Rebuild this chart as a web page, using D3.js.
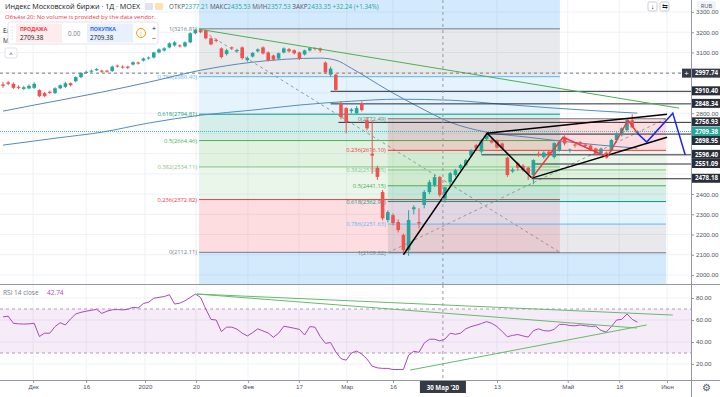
<!DOCTYPE html>
<html><head><meta charset="utf-8">
<script src="https://cdn.jsdelivr.net/npm/d3@7"></script>
<style>
body{margin:0;background:#fff;overflow:hidden}
svg{display:block;font-family:"Open Sans","Noto Sans",sans-serif}
</style></head>
<body><svg id="c" width="720" height="397"></svg>
<script>
// ---------------- DATA ----------------
const opens = [2942,2952,2945,2930,2920,2922,2925,2914,2899,2906,
2899,2923,2930,2948,2958,2978,3000,3005,3012,3010,
3010,3008,3035,3030,3030,3040,3050,3060,3070,3075,
3100,3110,3125,3135,3135,3130,3150,3195,3210,3210,
3170,3162,3120,3092,3125,3108,3125,3062,3080,3106,
3125,3100,3085,3070,3100,3116,3111,3100,3090,3110,
3122,3120,3050,2990,2990,2850,2825,2810,2800,2850,
2765,2600,2530,2410,2272,2296,2262,2198,2123,2325,
2262,2346,2410,2444,2484,2377.21,2459,2494,2528,2543,
2590,2642,2610,2672,2667,2665,2650,2580,2512,2553,
2540,2530,2494,2600,2583,2610,2583,2615,2680,2613,
2645,2657,2645,2640,2625,2600,2605,2617,2667,2691,
2716,2765,2695];
const closes = [2935,2945,2925,2925,2928,2935,2945,2884,2884,2900,
2923,2938,2948,2938,2978,2998,3004,3010,3018,3006,
3005,3030,3030,3025,3024,3052,3045,3070,3075,3100,
3115,3120,3145,3150,3130,3150,3195,3212,3200,3170,
3140,3158,3077,3111,3120,3112,3072,3072,3098,3115,
3095,3062,3065,3096,3120,3106,3096,3070,3110,3121,
3118,3110,3002,3020,2915,2780,2755,2818,2825,2815,
2725,2590,2485,2280,2311,2257,2222,2123,2272,2335,
2255,2410,2459,2484,2395,2433.35,2503,2518,2543,2568,
2617,2627,2667,2690,2655,2630,2627,2494,2520,2530,
2520,2500,2568,2593,2605,2595,2652,2657,2650,2620,
2640,2650,2638,2620,2600,2625,2585,2667,2700,2725,
2765,2730,2709.38];
const highs = [2955,2960,2952,2938,2935,2942,2952,2918,2905,2912,
2928,2942,2955,2952,2982,3002,3010,3015,3022,3015,
3014,3035,3040,3036,3034,3056,3055,3075,3080,3104,
3120,3126,3150,3156,3140,3155,3200,3216.81,3214,3212,
3175,3168,3125,3118,3130,3118,3130,3080,3102,3120,
3130,3105,3090,3100,3125,3122,3115,3104,3114,3126,
3126,3124,3056,3030,2995,2860,2830,2825,2835,2858,
2780,2765,2540,2420,2320,2305,2275,2205,2320,2345,
2330,2420,2470,2495,2490,2435.53,2510,2525,2550,2575,
2622,2648,2672,2700,2672,2670,2655,2585,2530,2560,
2548,2535,2572,2610,2612,2618,2656,2665,2690,2625,
2650,2662,2652,2645,2630,2630,2610,2672,2705,2730,
2770,2795,2715];
const lows = [2925,2938,2920,2918,2915,2918,2920,2878,2878,2895,
2895,2918,2925,2932,2952,2972,2995,3000,3008,3000,
3000,3004,3025,3020,3018,3036,3040,3055,3064,3070,
3095,3105,3120,3130,3125,3125,3145,3190,3195,3165,
3135,3150,3070,3085,3112,3100,3065,3055,3075,3100,
3090,3055,3058,3065,3095,3100,3090,3062,3085,3105,
3110,3100,2995,2980,2905,2770,2700,2800,2795,2808,
2715,2500,2470,2270,2260,2245,2210,2112.11,2095,2300,
2230,2330,2400,2435,2385,2357.53,2450,2485,2520,2538,
2585,2620,2600,2665,2650,2625,2620,2485,2505,2515,
2510,2470,2449,2585,2575,2590,2575,2610,2640,2605,
2630,2640,2630,2615,2595,2595,2575,2610,2660,2685,
2710,2725,2695];
const rsi = [62.8,63.5,57,56.5,56.3,56.5,57,45,48,48,
54,57.5,55.5,61,65.5,67,68,68.8,69.7,66,
68,69.3,69.5,69.2,69.7,71.5,71,75,76.2,79.8,
80.6,81.3,83,74.5,75.3,77.5,80.5,83.6,80.5,70,
60.5,60,49.5,53.5,53.5,51.7,48,45.5,48.5,52,
50,48.2,44.3,48,54.3,53.5,52.5,51.5,46.4,54,
53.5,45,38.8,39.5,31,24.8,23.5,30,31.7,29,
24.5,18,16.5,16,16,15,15,15,28,31.6,
30.6,39,42.5,42.5,41,42.74,48,47,48,52,
54,55.3,56.8,58.5,57,54,49.5,44.8,46,46.8,
45.5,44.5,50.3,52,50.3,50,51.5,56,56,55,
54.7,55.5,54.8,54.2,54.4,50.5,49,54,60,60.6,
65.5,60.6,58];

// moving averages (read values at bar indices)
const maFastIdx = [0,6,11,19,28,38,48,61,64,67,74,80,86,93,101,109,117,122];
const maFastVal = [2810,2840,2864,2904,2953,3012,3052,3072,3062,3022,2914,2830,2755,2706,2681,2657,2637,2627];
const maSlowIdx = [0,10,19,28,38,48,57,67,76,86,96,106,115,122];
const maSlowVal = [2642,2676,2706,2751,2790,2815,2840,2859,2869,2864,2844,2825,2810,2800];

// time axis
const timeIdx = [5.8,16,27.3,37.1,47.1,56.9,66.1,75,95,108.6,118.5,127.7];
const timeLbl = ["Дек","16","2020","20","Фев","17","Мар","16","13","Май","18","Июн"];
const crossIdx = 84.6, crossLbl = "30 Мар '20", crossPrice = 2997.74;

const priceTicks = [2000,2100,2200,2300,2400,2500,2600,2700,2800,2900,3000,3100,3200,3300];
const rsiTicks = [20,40,60,80];

// fib retracements
const fibLevels = [0,0.236,0.382,0.5,0.618,0.786,1,1.618];
const fibColors = ["#787b86","#f23645","#81c784","#4caf50","#089981","#64b5f6","#787b86","#2196f3"];
const fibA = {i1:37.7, i2:107.1, p1:3216.81, p0:2112.11};
const fibB = {i1:74, i2:127.5, p1:2109.82, p0:2772.49};

// horizontal rays
const rayPrice = [2910.40,2848.34,2756.93,2698.95,2596.40,2551.09,2478.18];
const rayStart = [63,63,64.5,93,92,101.7,101.7];
const lastPrice = 2709.38;

// drawings
const greenTrend = [[37.7,3215],[130,2825]];
const blackZig = [[77,2100],[93.1,2701],[101.7,2479]];
const wedgeUp = [[93.1,2701],[127.7,2795]];
const wedgeLo = [[101.7,2479],[127.7,2681]];
const redZig = [[101.7,2479],[107.7,2681],[116.2,2583],[120.2,2765],[122,2701]];
const blueZig = [[122,2701],[123.8,2657],[128.8,2800],[131.2,2593]];
const rsiTrend1 = [[37.3,83.6],[128.8,64.5]];
const rsiTrend2 = [[37.3,83.6],[121.9,52.7]];
const rsiTrend3 = [[78.3,14.5],[123.8,55.5]];

// ---------------- LAYOUT ----------------
const svg = d3.select('#c');
const R = 691, mainBot = 284, rsiTop = 285, rsiBot = 380;
const x = d3.scaleLinear().domain([0,122]).range([3, 3+5.2*122]);
const y = d3.scaleLinear().domain([2000,3300]).range([275,12]);
const yr = d3.scaleLinear().domain([0,100]).range([386,276]);
const up = "#26a69a", dn = "#ef5350";

const defs = svg.append('defs');
defs.append('clipPath').attr('id','cm').append('rect').attr('x',0).attr('y',0).attr('width',R).attr('height',mainBot);
defs.append('clipPath').attr('id','cr').append('rect').attr('x',0).attr('y',rsiTop).attr('width',R).attr('height',rsiBot-rsiTop);

const gm = svg.append('g').attr('clip-path','url(#cm)');
const gr = svg.append('g').attr('clip-path','url(#cr)');

// grid
const gridC = "#eef1f6";
timeIdx.forEach(t=>{
  gm.append('line').attr('x1',x(t)).attr('x2',x(t)).attr('y1',0).attr('y2',mainBot).attr('stroke',gridC);
  gr.append('line').attr('x1',x(t)).attr('x2',x(t)).attr('y1',rsiTop).attr('y2',rsiBot).attr('stroke',gridC);
});
priceTicks.forEach(p=>gm.append('line').attr('x1',0).attr('x2',R).attr('y1',y(p)).attr('y2',y(p)).attr('stroke',gridC));
rsiTicks.forEach(r=>gr.append('line').attr('x1',0).attr('x2',R).attr('y1',yr(r)).attr('y2',yr(r)).attr('stroke',gridC));

// fib drawing
function drawFib(f){
  const price = l => f.p0 + (f.p1-f.p0)*l;
  const xa = x(f.i1), xb = x(f.i2);
  for(let k=0;k<fibLevels.length-1;k++){
    const ya = y(price(fibLevels[k])), yb = y(price(fibLevels[k+1]));
    gm.append('rect').attr('x',xa).attr('width',xb-xa).attr('y',Math.min(ya,yb)).attr('height',Math.abs(yb-ya))
      .attr('fill',fibColors[k+1]).attr('fill-opacity',k===fibLevels.length-2?0.2:0.17);
  }
  fibLevels.forEach((l,k)=>{
    const yy = y(price(l));
    gm.append('line').attr('x1',xa).attr('x2',xb).attr('y1',yy).attr('y2',yy).attr('stroke',fibColors[k]).attr('stroke-width',1);
    if(l<=1) gm.append('text').attr('x',xa-2).attr('y',yy+2).attr('text-anchor','end').attr('font-size',5.8)
      .attr('fill',fibColors[k]).text(`${l}(${price(l).toFixed(2)})`);
  });
  gm.append('line').attr('x1',xa).attr('y1',y(f.p1)).attr('x2',xb).attr('y2',y(f.p0))
    .attr('stroke','#9598a1').attr('stroke-dasharray','3,3').attr('stroke-width',1);
}
drawFib(fibA);
// light band below fib A base (up to where fib B's own extension band begins)
gm.append('rect').attr('x',x(fibA.i1)).attr('width',x(fibB.i1)-x(fibA.i1)).attr('y',y(fibA.p0)).attr('height',mainBot-y(fibA.p0))
  .attr('fill','#2196f3').attr('fill-opacity',0.2);
drawFib(fibB);

// moving averages
const lineGen = d3.line().x(d=>x(d[0])).y(d=>y(d[1])).curve(d3.curveMonotoneX);
gm.append('path').attr('d',lineGen(maFastIdx.map((d,i)=>[d,maFastVal[i]]))).attr('fill','none').attr('stroke','#5b86b3').attr('stroke-width',1);
gm.append('path').attr('d',lineGen(maSlowIdx.map((d,i)=>[d,maSlowVal[i]]))).attr('fill','none').attr('stroke','#4f8fbf').attr('stroke-width',1);

// rays
rayPrice.forEach((p,i)=>gm.append('line').attr('x1',x(rayStart[i])).attr('x2',R).attr('y1',y(p)+0.5).attr('y2',y(p)+0.5)
  .attr('stroke','#2a2e39').attr('stroke-width',1));

// last price line
gm.append('line').attr('x1',0).attr('x2',R).attr('y1',y(lastPrice)).attr('y2',y(lastPrice)).attr('stroke',up).attr('stroke-dasharray','1,1').attr('stroke-opacity',0.8);

// candles
const cg = gm.append('g');
opens.forEach((o,i)=>{
  const c = closes[i], col = c>=o?up:dn, cx = x(i);
  cg.append('line').attr('x1',cx).attr('x2',cx).attr('y1',y(highs[i])).attr('y2',y(lows[i])).attr('stroke',col).attr('stroke-width',1);
  const t = y(Math.max(o,c)), b = y(Math.min(o,c));
  cg.append('rect').attr('x',cx-1.8).attr('width',3.6).attr('y',t).attr('height',Math.max(1,b-t)).attr('fill',col);
});

// drawings
const lp = d3.line().x(d=>x(d[0])).y(d=>y(d[1]));
gm.append('path').attr('d',lp(greenTrend)).attr('stroke','#4caf50').attr('stroke-width',1).attr('fill','none');
[wedgeUp,wedgeLo].forEach(w=>gm.append('path').attr('d',lp(w)).attr('stroke','#000').attr('stroke-width',1.5).attr('fill','none'));
gm.append('path').attr('d',lp(blackZig)).attr('stroke','#000').attr('stroke-width',1.5).attr('fill','none');
gm.append('path').attr('d',lp(redZig)).attr('stroke','#f23645').attr('stroke-width',1.5).attr('fill','none');
gm.append('path').attr('d',lp(blueZig)).attr('stroke','#1e22f0').attr('stroke-width',1.5).attr('fill','none');

// crosshair main
gm.append('line').attr('x1',0).attr('x2',R).attr('y1',y(crossPrice)).attr('y2',y(crossPrice)).attr('stroke','#787b86').attr('stroke-dasharray','3,3');
gm.append('line').attr('x1',x(crossIdx)).attr('x2',x(crossIdx)).attr('y1',0).attr('y2',mainBot).attr('stroke','#9598a1').attr('stroke-dasharray','3,3');

// ---------------- RSI ----------------
gr.append('rect').attr('x',0).attr('width',R).attr('y',yr(70)).attr('height',yr(30)-yr(70)).attr('fill','#9c27b0').attr('fill-opacity',0.09);
[70,30].forEach(v=>gr.append('line').attr('x1',0).attr('x2',R).attr('y1',yr(v)).attr('y2',yr(v)).attr('stroke','#b09cb8').attr('stroke-dasharray','3,3'));
const lr = d3.line().x((d,i)=>x(i)).y(d=>yr(d));
gr.append('path').attr('d',lr(rsi)).attr('fill','none').attr('stroke','#ab47bc').attr('stroke-width',1);
const lrp = d3.line().x(d=>x(d[0])).y(d=>yr(d[1]));
[rsiTrend1,rsiTrend2,rsiTrend3].forEach(t=>gr.append('path').attr('d',lrp(t)).attr('stroke','#66bb6a').attr('stroke-width',1).attr('fill','none'));
gr.append('line').attr('x1',x(crossIdx)).attr('x2',x(crossIdx)).attr('y1',rsiTop).attr('y2',rsiBot).attr('stroke','#9598a1').attr('stroke-dasharray','3,3');
svg.append('text').attr('x',3).attr('y',295).attr('font-size',6.5).attr('fill','#787b86').text('RSI 14 close');
svg.append('text').attr('x',47).attr('y',295).attr('font-size',6.5).attr('fill','#ab47bc').text('42.74');

// separators / borders
svg.append('line').attr('x1',0).attr('x2',720).attr('y1',284.5).attr('y2',284.5).attr('stroke','#9598a1');
svg.append('line').attr('x1',0).attr('x2',720).attr('y1',380.5).attr('y2',380.5).attr('stroke','#9598a1');
svg.append('line').attr('x1',R+0.5).attr('x2',R+0.5).attr('y1',0).attr('y2',397).attr('stroke','#9598a1');

// ---------------- AXES ----------------
const tags = rayPrice.map(p=>({p,bg:'#2a2e39'})).concat([{p:crossPrice,bg:'#363a45'},{p:lastPrice,bg:up,prio:true}]);
tags.forEach(t=>t.y=y(t.p));
tags.sort((a,b)=>a.y-b.y);
for(let k=1;k<tags.length;k++){
  if(tags[k].y < tags[k-1].y+9){
    if(tags[k-1].prio || !tags[k].prio) tags[k].y = tags[k-1].y+9;
    else tags[k-1].y = tags[k].y-9;
  }
}
const shownTicks = priceTicks.filter(p=>tags.every(t=>Math.abs(t.y-y(p))>8));
const ax = svg.append('g').attr('transform',`translate(${R},0)`)
  .call(d3.axisRight(y).tickValues(shownTicks).tickFormat(d3.format('.2f')).tickSize(3).tickPadding(2));
const ar = svg.append('g').attr('transform',`translate(${R},0)`)
  .call(d3.axisRight(yr).tickValues(rsiTicks).tickFormat(d3.format('.2f')).tickSize(3).tickPadding(2));
const at = svg.append('g').attr('transform',`translate(0,380)`)
  .call(d3.axisBottom(x).tickValues(timeIdx).tickFormat((d,i)=>timeLbl[i]).tickSize(3).tickPadding(2));
[ax,ar,at].forEach(a=>{a.select('.domain').remove();a.selectAll('text').attr('font-size',6.2).attr('fill','#50535e');a.selectAll('line').attr('stroke','#9598a1');});

tags.forEach(t=>{
  svg.append('rect').attr('x',R+1).attr('y',t.y-4.5).attr('width',28).attr('height',9).attr('fill',t.bg);
  svg.append('text').attr('x',R+4).attr('y',t.y+2.2).attr('font-size',6.2).attr('font-weight','bold').attr('fill','#fff').text(t.p.toFixed(2));
});
svg.append('rect').attr('x',R-9).attr('y',y(crossPrice)-4.5).attr('width',9).attr('height',9).attr('fill','#363a45');
svg.append('text').attr('x',R-4.5).attr('y',y(crossPrice)+2.5).attr('text-anchor','middle').attr('font-size',8).attr('fill','#fff').text('+');
svg.append('rect').attr('x',x(crossIdx)-23).attr('y',381).attr('width',46).attr('height',12).attr('fill','#363a45');
svg.append('text').attr('x',x(crossIdx)).attr('y',389.5).attr('text-anchor','middle').attr('font-size',6.2).attr('font-weight','bold').attr('fill','#fff').text(crossLbl);
svg.append('text').attr('x',706).attr('y',391).attr('text-anchor','middle').attr('font-size',10).attr('fill','#50535e').text('⚙');
svg.append('rect').attr('x',697).attr('y',1).attr('width',19).attr('height',9).attr('rx',1).attr('fill','#f0f3fa');
svg.append('text').attr('x',706.5).attr('y',8).attr('text-anchor','middle').attr('font-size',5.8).attr('fill','#50535e').text('RUB');
[[648,'↓'],[660,'⇆']].forEach(d=>{
  svg.append('rect').attr('x',d[0]).attr('y',2).attr('width',9).attr('height',9).attr('rx',1.5).attr('fill','#fff').attr('stroke','#c8cbd3');
  svg.append('text').attr('x',d[0]+4.5).attr('y',9).attr('text-anchor','middle').attr('font-size',6.5).attr('fill','#131722').text(d[1]);
});

// ---------------- LEGEND ----------------
svg.append('text').attr('x',5).attr('y',9).attr('font-size',7.2).attr('fill','#131722').text('Индекс Московской биржи · 1Д · MOEX');
svg.append('rect').attr('x',145).attr('y',3).attr('width',8).attr('height',7).attr('rx',1).attr('fill','#e0e3eb');
svg.append('rect').attr('x',155).attr('y',3).attr('width',8).attr('height',7).attr('rx',1).attr('fill','#ffe0b2');
const ohlc = svg.append('text').attr('x',169).attr('y',9).attr('font-size',6.3);
[['ОТКР','2377.21'],['МАКС','2435.53'],['МИН','2357.53'],['ЗАКР','2433.35']].forEach(d=>{
  ohlc.append('tspan').attr('fill','#50535e').text(d[0]);
  ohlc.append('tspan').attr('fill',up).text(d[1]+' ');
});
ohlc.append('tspan').attr('fill',up).text('+32.24 (+1.34%)');
svg.append('text').attr('x',5).attr('y',19).attr('font-size',6).attr('fill','#f23645').text('Объём 20: No volume is provided by the data vendor.');
svg.append('text').attr('x',3).attr('y',33).attr('font-size',6.5).attr('fill','#131722').text('Ел');
svg.append('text').attr('x',3).attr('y',43).attr('font-size',6.5).attr('fill','#131722').text('М');
svg.append('rect').attr('x',8).attr('y',22).attr('width',150).attr('height',22).attr('rx',2).attr('fill','#fff').attr('stroke','#e0e3eb');
svg.append('rect').attr('x',16).attr('y',23.5).attr('width',46).attr('height',19).attr('fill','#fdecee');
svg.append('rect').attr('x',87).attr('y',23.5).attr('width',46).attr('height',19).attr('fill','#e8f0fe');
svg.append('text').attr('x',20).attr('y',31).attr('font-size',5.2).attr('font-weight','bold').attr('fill','#f23645').text('ПРОДАЖА');
svg.append('text').attr('x',20).attr('y',40).attr('font-size',6.3).attr('fill','#131722').text('2709.38');
svg.append('text').attr('x',68).attr('y',36).attr('font-size',6.3).attr('fill','#787b86').text('0.00');
svg.append('text').attr('x',90).attr('y',31).attr('font-size',5.2).attr('font-weight','bold').attr('fill','#2962ff').text('ПОКУПКА');
svg.append('text').attr('x',90).attr('y',40).attr('font-size',6.3).attr('fill','#131722').text('2709.38');
svg.append('circle').attr('cx',141).attr('cy',33).attr('r',4.5).attr('fill','#fff').attr('stroke','#ff9800');
svg.append('text').attr('x',141).attr('y',35.5).attr('text-anchor','middle').attr('font-size',6).attr('fill','#ff9800').text('!');
svg.append('text').attr('x',154).attr('y',31).attr('text-anchor','middle').attr('font-size',7).attr('fill','#131722').text('+');
svg.append('text').attr('x',154).attr('y',41).attr('text-anchor','middle').attr('font-size',7).attr('fill','#131722').text('−');
[11,12.5].forEach(xx=>[27,30,33,36,39].forEach(yy=>svg.append('circle').attr('cx',xx).attr('cy',yy).attr('r',0.4).attr('fill','#b2b5be')));
svg.append('rect').attr('x',5).attr('y',48).attr('width',12).attr('height',10).attr('rx',2).attr('fill','#fff').attr('stroke','#e0e3eb');
svg.append('text').attr('x',11).attr('y',56).attr('text-anchor','middle').attr('font-size',6).attr('fill','#131722').text('^');
</script></body></html>
